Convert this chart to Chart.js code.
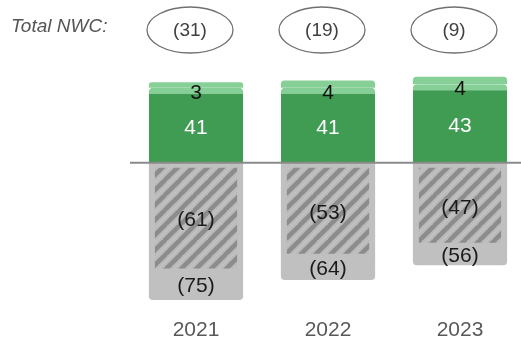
<!DOCTYPE html>
<html><head><meta charset="utf-8">
<script src="https://cdn.jsdelivr.net/npm/chart.js@4"></script>
<style>
html,body{margin:0;padding:0;overflow:hidden;background:#fff;width:521px;height:340px}
#wrap{width:526px;height:340px;position:relative}
canvas{display:block}
</style></head><body>
<div id="wrap"><canvas id="c" width="526" height="340" style="width:526px;height:340px"></canvas></div>
<script>
const categories = ['2021', '2022', '2023'];
const coreNWC = [41, 41, 43];
const otherPos = [3, 4, 4];
const hatchedNeg = [-61, -53, -47];
const totalNeg = [-75, -64, -56];
const totalNWC = [-31, -19, -9];
const summaryLabel = 'Total NWC:';

const FONT = '"Liberation Sans", Arial, sans-serif';
const DARK = '#3f9c52', LIGHT = '#86cf96', GRAY = '#c0c0c0';

function makeHatch() {
  const s = 15;
  const c = document.createElement('canvas');
  c.width = s; c.height = s;
  const g = c.getContext('2d');
  g.fillStyle = '#bababa';
  g.fillRect(0, 0, s, s);
  g.strokeStyle = '#c9c9c9';
  g.lineWidth = 1;
  for (const k of [-s / 2, s / 2, 1.5 * s]) {
    g.beginPath(); g.moveTo(k - s, 2 * s); g.lineTo(k + s, 0); g.stroke();
  }
  g.strokeStyle = '#8c8c8c';
  g.lineWidth = 4.5;
  for (const k of [0, s, 2 * s]) {
    g.beginPath(); g.moveTo(k - s - 1, s + 1); g.lineTo(k + 1, -1); g.stroke();
  }
  return g.createPattern(c, 'repeat');
}

function paren(v) { return v < 0 ? '(' + Math.abs(v) + ')' : String(v); }

const labelPlugin = {
  id: 'labels',
  afterDatasetsDraw(chart) {
    const ctx = chart.ctx;
    const ys = chart.scales.y;
    const ca = chart.chartArea;
    const y0 = ys.getPixelForValue(0);
    ctx.save();
    ctx.strokeStyle = '#8a8a8a';
    ctx.lineWidth = 2;
    ctx.beginPath(); ctx.moveTo(ca.left, y0); ctx.lineTo(ca.right, y0); ctx.stroke();

    const mHatch = chart.getDatasetMeta(0);
    const mDark = chart.getDatasetMeta(2);
    ctx.textAlign = 'center';
    ctx.textBaseline = 'middle';
    for (let i = 0; i < categories.length; i++) {
      const d = mDark.data[i];
      const x = d.x;
      ctx.font = '21px ' + FONT;
      ctx.fillStyle = '#ffffff';
      ctx.fillText(String(coreNWC[i]), x, (d.y + d.base) / 2 + 3);
      ctx.fillStyle = '#111111';
      ctx.fillText(String(otherPos[i]), x, d.y + 5.5);
      const h = mHatch.data[i];
      ctx.fillStyle = '#1a1a1a';
      ctx.fillText(paren(hatchedNeg[i]), x, (h.y + h.base) / 2 + 2);
      ctx.fillText(paren(totalNeg[i]), x, ys.getPixelForValue((hatchedNeg[i] + totalNeg[i]) / 2) - 1);

      const cx = x - 6, cy = 30;
      ctx.strokeStyle = '#707070';
      ctx.lineWidth = 1.3;
      ctx.beginPath(); ctx.ellipse(cx, cy, 43, 23, 0, 0, Math.PI * 2); ctx.stroke();
      ctx.fillStyle = '#404040';
      ctx.font = '19px ' + FONT;
      ctx.fillText(paren(totalNWC[i]), cx, cy + 1);
    }
    ctx.textAlign = 'left';
    ctx.fillStyle = '#555555';
    ctx.font = 'italic 19px ' + FONT;
    ctx.fillText(summaryLabel, 11, 27);
    ctx.restore();
  }
};

new Chart(document.getElementById('c'), {
  type: 'bar',
  data: {
    labels: categories,
    datasets: [
      { label: 'hatched', data: hatchedNeg, stack: 'h', grouped: false,
        backgroundColor: makeHatch(), borderColor: GRAY, borderSkipped: false,
        borderWidth: { top: 5, right: 6, bottom: 6, left: 6 } },
      { label: 'total', data: totalNeg, stack: 'g', grouped: false,
        backgroundColor: GRAY, borderWidth: 0,
        borderRadius: { topLeft: 0, topRight: 0, bottomLeft: 4, bottomRight: 4 } },
      { label: 'core', data: coreNWC, stack: 'p', grouped: false,
        backgroundColor: DARK, borderColor: LIGHT, borderSkipped: false,
        borderWidth: { top: 6, right: 0, bottom: 0, left: 0 },
        borderRadius: { topLeft: 4, topRight: 4, bottomLeft: 0, bottomRight: 0 } },
      { label: 'other', data: otherPos, stack: 'p', grouped: false,
        backgroundColor: LIGHT, borderWidth: 0,
        borderRadius: { topLeft: 4, topRight: 4, bottomLeft: 0, bottomRight: 0 } }
    ]
  },
  options: {
    responsive: false,
    animation: false,
    events: [],
    layout: { padding: { left: 130, right: 0, top: 22, bottom: 0 } },
    datasets: { bar: { categoryPercentage: 0.714, barPercentage: 1 } },
    scales: {
      x: { offset: true, grid: { display: false, drawTicks: false }, border: { display: false },
           ticks: { color: '#595959', padding: 7, font: { family: FONT, size: 21 } },
           afterFit(scale) { scale.height = 29; } },
      y: { display: false, stacked: true, min: -81, max: 77 }
    },
    plugins: { legend: { display: false }, tooltip: { enabled: false } }
  },
  plugins: [labelPlugin]
});
</script>
</body></html>
